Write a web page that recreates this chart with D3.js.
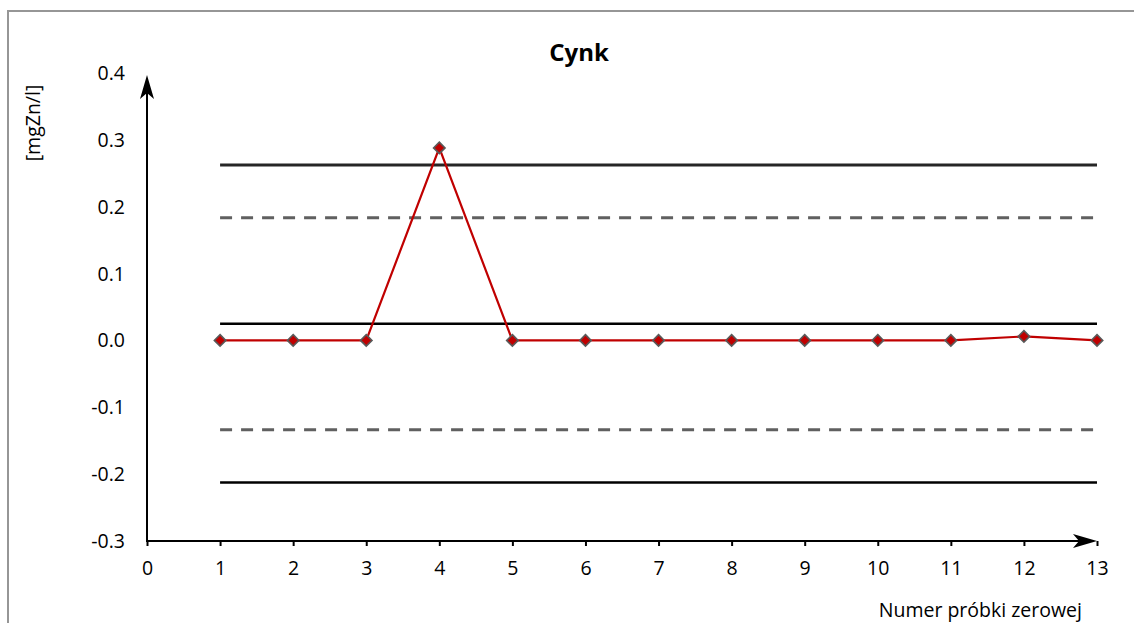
<!DOCTYPE html>
<html><head><meta charset="utf-8">
<script src="https://cdn.jsdelivr.net/npm/d3@7"></script>
<style>
html,body{margin:0;padding:0;background:#fff;}
svg{display:block;font-family:"Open Sans",Lato,sans-serif;}
</style></head>
<body>
<svg id="c" width="1134" height="623"></svg>
<script>
const samples = [1,2,3,4,5,6,7,8,9,10,11,12,13];
const values = [0,0,0,0.288,0,0,0,0,0,0,0,0.006,0];
const xTicks = [0,1,2,3,4,5,6,7,8,9,10,11,12,13];
const yTicks = [0.4,0.3,0.2,0.1,0.0,-0.1,-0.2,-0.3];
const limitNames = ["UCL","UWL","CL","LWL","LCL"];
const limitValues = [0.2625,0.1835,0.025,-0.1335,-0.2125];
const limitDashed = [false,true,false,true,false];
const title = "Cynk";
const yTitle = "[mgZn/l]";
const xTitle = "Numer próbki zerowej";

const FS = 19.5;
const FONT = "'Open Sans',Lato,sans-serif";
const svg = d3.select("#c");
svg.append("rect").attr("x",8).attr("y",11).attr("width",1140).attr("height",640)
  .attr("fill","none").attr("stroke","#969696").attr("stroke-width",2);

const x = d3.scaleLinear().domain([0,13]).range([147,1097]);
const y = d3.scaleLinear().domain([-0.3,0.4]).range([541,73]);
const fmtY = d => d3.format(".1f")(d).replace("\u2212","-");

svg.append("text").attr("x",579).attr("y",61).attr("text-anchor","middle")
  .attr("font-weight","bold").attr("font-size",24).attr("fill","#000").text(title);

svg.append("text").attr("transform","translate(40,123) rotate(-90)")
  .attr("text-anchor","middle").attr("font-size",FS).attr("fill","#000").text(yTitle);

svg.append("text").attr("x",1082).attr("y",617).attr("text-anchor","end")
  .attr("font-size",FS).attr("fill","#000").text(xTitle);

svg.append("g").selectAll("text").data(yTicks).join("text")
  .attr("x",125).attr("y",d=>y(d)).attr("dy","0.36em").attr("text-anchor","end")
  .attr("font-size",FS).attr("fill","#000").text(fmtY);

const xAxis = d3.axisBottom(x).tickValues(xTicks).tickSize(5).tickPadding(15).tickFormat(d3.format("d"));
const gx = svg.append("g").attr("transform",`translate(0,${y(-0.3)})`).call(xAxis);
gx.select(".domain").remove();
gx.selectAll(".tick line").attr("stroke","#000").attr("stroke-width",2);
gx.selectAll(".tick text").attr("font-size",FS).attr("fill","#000").attr("font-family",FONT);

svg.append("line").attr("x1",x(0)).attr("x2",x(13)-6).attr("y1",y(-0.3)).attr("y2",y(-0.3))
  .attr("stroke","#000").attr("stroke-width",2);
svg.append("path").attr("d",`M${x(13)},${y(-0.3)} L${x(13)-24},${y(-0.3)-7} L${x(13)-18},${y(-0.3)} L${x(13)-24},${y(-0.3)+7} Z`).attr("fill","#000");
svg.append("line").attr("x1",x(0)).attr("x2",x(0)).attr("y1",y(-0.3)+1).attr("y2",y(0.4)+8)
  .attr("stroke","#000").attr("stroke-width",2);
svg.append("path").attr("d",`M${x(0)},${y(0.4)+2} L${x(0)-7},${y(0.4)+26} L${x(0)},${y(0.4)+20} L${x(0)+7},${y(0.4)+26} Z`).attr("fill","#000");

svg.append("g").selectAll("line").data(limitValues).join("line")
  .attr("x1",x(1)).attr("x2",x(13)).attr("y1",d=>y(d)).attr("y2",d=>y(d))
  .attr("stroke",(d,i)=>limitDashed[i]?"#606060":(i===0?"#262626":"#000"))
  .attr("stroke-width",(d,i)=>limitDashed[i]?3:(i===0?3:2.5))
  .attr("stroke-dasharray",(d,i)=>limitDashed[i]?"12,9":null);

const pts = samples.map((s,i)=>({s,v:values[i]}));
svg.append("path").datum(pts).attr("fill","none").attr("stroke","#C00000").attr("stroke-width",2.2)
  .attr("d",d3.line().x(d=>x(d.s)).y(d=>y(d.v)));
svg.append("g").selectAll("path").data(pts).join("path")
  .attr("d",d3.symbol().type(d3.symbolDiamond2).size(84))
  .attr("transform",d=>`translate(${x(d.s)},${y(d.v)})`)
  .attr("fill","#C00000").attr("stroke","#595959").attr("stroke-width",1.6);
</script>
</body></html>
